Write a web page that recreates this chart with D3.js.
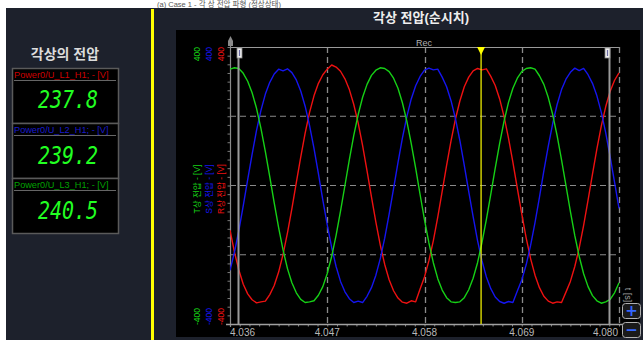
<!DOCTYPE html>
<html><head><meta charset="utf-8">
<script src="https://cdn.jsdelivr.net/npm/d3@7"></script>
<style>html,body{margin:0;padding:0;background:#fff;overflow:hidden}</style>
</head><body><svg id="c" width="643" height="340"></svg>
<script>
// ---------------- data ----------------
const times = [
4.036,4.0365,4.037,4.0375,4.038,4.0385,4.039,4.0395,4.040,4.0405,
4.041,4.0415,4.042,4.0425,4.043,4.0435,4.044,4.0445,4.045,4.0455,
4.046,4.0465,4.047,4.0475,4.048,4.0485,4.049,4.0495,4.050,4.0505,
4.051,4.0515,4.052,4.0525,4.053,4.0535,4.054,4.0545,4.055,4.0555,
4.056,4.0565,4.057,4.0575,4.058,4.0585,4.059,4.0595,4.060,4.0605,
4.061,4.0615,4.062,4.0625,4.063,4.0635,4.064,4.0645,4.065,4.0655,
4.066,4.0665,4.067,4.0675,4.068,4.0685,4.069,4.0695,4.070,4.0705,
4.071,4.0715,4.072,4.0725,4.073,4.0735,4.074,4.0745,4.075,4.0755,
4.076,4.0765,4.077,4.0775,4.078,4.0785,4.079,4.0795,4.080];

const phaseR = [
-129,-192,-244,-285,-313,-330,-339,-336,-334,-315,
-289,-250,-199,-137,-67,8,82,151,211,259,
295,320,336,348,342,330,308,277,234,180,
115,42,-33,-106,-172,-228,-272,-304,-325,-337,
-340,-333,-336,-299,-264,-217,-159,-91,-17,58,
129,192,244,285,313,331,338,334,337,315,
289,250,199,137,67,-8,-82,-151,-211,-259,
-295,-320,-334,-340,-336,-338,-308,-277,-234,-180,
-115,-42,33,106,172,228,272,304,325];

const phaseS = [
-245,-193,-130,-58,17,90,159,217,264,298,
322,336,331,337,326,305,273,229,173,107,
34,-42,-114,-179,-234,-277,-307,-327,-338,-334,
-338,-320,-295,-259,-211,-152,-83,-9,66,137,
199,250,288,315,333,339,334,336,313,285,
245,193,130,58,-17,-90,-159,-217,-264,-298,
-322,-335,-340,-335,-338,-305,-273,-229,-173,-107,
-34,42,114,179,234,277,307,327,339,332,
338,320,295,259,211,152,83,9,-66];

const phaseT = [
336,340,338,324,301,268,223,165,98,25,
-50,-122,-186,-240,-281,-310,-329,-338,-336,-333,
-317,-292,-254,-205,-144,-74,0,75,145,205,
255,292,318,333,340,338,329,310,281,239,
186,121,50,-26,-99,-166,-223,-269,-302,-324,
-336,-338,-336,-324,-301,-268,-223,-165,-98,-25,
50,122,186,240,281,310,329,338,340,336,
317,292,254,205,144,74,0,-75,-145,-205,
-255,-292,-318,-333,-340,-336,-329,-310,-281];

const seriesNames = ["R상 전압 - [V]", "S상 전압 - [V]", "T상 전압 - [V]"];
const seriesColors = ["#ee1111", "#1515ee", "#16d016"];
const meterNames = ["Power0/U_L1_H1; - [V]", "Power0/U_L2_H1; - [V]", "Power0/U_L3_H1; - [V]"];
const meterValues = ["237.8", "239.2", "240.5"];
const meterColors = ["#cc0000", "#1a1acc", "#00a000"];
const xTicks = [4.036, 4.047, 4.058, 4.069, 4.080];
const yGrid = [-200, 0, 200];
const yDomain = [-400, 400];
const cursorTimes = [4.0369, 4.0789];
const markerTime = 4.0644;

// ---------------- drawing ----------------
const svg = d3.select("#c");
const KR = "'Liberation Sans','Noto Sans CJK KR',sans-serif";

svg.append("rect").attr("width", 643).attr("height", 340).attr("fill", "#ffffff");
svg.append("text").attr("x", 157).attr("y", 7).attr("font-family", KR).attr("font-size", 7.5)
  .attr("fill", "#555").text("(a) Case 1 - 각 상 전압 파형 (정상상태)");
svg.append("rect").attr("x", 6).attr("y", 8).attr("width", 637).attr("height", 332).attr("fill", "#1d212c");
svg.append("rect").attr("x", 151).attr("y", 9).attr("width", 3).attr("height", 331).attr("fill", "#ffff00");

// left panel
svg.append("text").attr("x", 65).attr("y", 59).attr("text-anchor", "middle")
  .attr("font-family", KR).attr("font-weight", "bold").attr("font-size", 14)
  .attr("fill", "#dcdcdc").text("각상의 전압");

const meters = svg.append("g").selectAll("g").data(meterValues).join("g")
  .attr("transform", (d, i) => `translate(12,${68 + 55 * i})`);
meters.append("rect").attr("x", 0.5).attr("y", 0.5).attr("width", 106).attr("height", 55)
  .attr("fill", "#000").attr("stroke", "#5a5a5a").attr("stroke-width", 1.5);
meters.append("text").attr("x", 2).attr("y", 10).attr("font-family", "'Liberation Sans',Arial,sans-serif")
  .attr("font-size", 9.2).attr("fill", (d, i) => meterColors[i]).text((d, i) => meterNames[i]);
meters.append("line").attr("x1", 2).attr("x2", 104).attr("y1", 12.5).attr("y2", 12.5)
  .attr("stroke", "#666").attr("stroke-width", 1);
meters.append("text").attr("x", 56).attr("y", (d, i) => 40 + i * 0.6).attr("text-anchor", "middle")
  .attr("font-family", "'DejaVu Sans Mono',monospace").attr("font-style", "italic")
  .attr("font-size", 24).attr("fill", "#22ff22")
  .attr("textLength", 60).attr("lengthAdjust", "spacingAndGlyphs").text(d => d);

// chart title
svg.append("text").attr("x", 421).attr("y", 22).attr("text-anchor", "middle")
  .attr("font-family", KR).attr("font-weight", "bold").attr("font-size", 13)
  .attr("fill", "#eeeeee").text("각상 전압(순시치)");

// black chart area
svg.append("rect").attr("x", 176).attr("y", 30).attr("width", 464).attr("height", 307).attr("fill", "#000");

const x = d3.scaleLinear().domain([xTicks[0], xTicks[xTicks.length - 1]]).range([230, 619]);
const y = d3.scaleLinear().domain(yDomain).range([324, 47]);

const plot = svg.append("g");
// grid
plot.selectAll(".hg").data(yGrid).join("line")
  .attr("x1", x.range()[0]).attr("x2", x.range()[1]).attr("y1", d => y(d)).attr("y2", d => y(d))
  .attr("stroke", "#8a8a8a").attr("stroke-width", 1).attr("stroke-dasharray", "6,4");
plot.selectAll(".vg").data(xTicks.slice(1)).join("line")
  .attr("x1", d => Math.round(x(d)) + 0.5).attr("x2", d => Math.round(x(d)) + 0.5)
  .attr("y1", y(yDomain[1])).attr("y2", y(yDomain[0]))
  .attr("stroke", "#8a8a8a").attr("stroke-width", 1.3).attr("stroke-dasharray", "6,4");
// top frame line
plot.append("line").attr("x1", x.range()[0]).attr("x2", x.range()[1])
  .attr("y1", y(yDomain[1]) + 0.5).attr("y2", y(yDomain[1]) + 0.5)
  .attr("stroke", "#9a9a9a").attr("stroke-width", 1);

// left axis with minor ticks
const yAxis = d3.axisLeft(y).tickValues(d3.range(yDomain[0], yDomain[1] + 1, 25)).tickSize(3).tickFormat("");
const ya = plot.append("g").attr("transform", "translate(230.5,0)").call(yAxis);
ya.select(".domain").remove();
ya.selectAll("line").attr("stroke", "#7a7a7a");
plot.append("line").attr("x1", 230.5).attr("x2", 230.5).attr("y1", 40).attr("y2", 327)
  .attr("stroke", "#8a8a8a").attr("stroke-width", 1.2);
plot.append("path").attr("d", "M230.5,36 L228,41 L228,46 L233,46 L233,41 Z").attr("fill", "#8a8a8a");

// bottom axis
const xAxis = d3.axisBottom(x).tickValues(d3.range(0, 41).map(i => 4.036 + i * 0.0011)).tickSize(2).tickFormat("");
const xa = plot.append("g").attr("transform", "translate(0,324.5)").call(xAxis);
xa.select(".domain").remove();
xa.selectAll("line").attr("stroke", "#8a8a8a");
plot.append("line").attr("x1", 226).attr("x2", 640).attr("y1", 324.5).attr("y2", 324.5)
  .attr("stroke", "#a0a0a0").attr("stroke-width", 1.5);

// x tick labels
plot.selectAll(".xl").data(xTicks).join("text")
  .attr("x", (d, i) => i === 0 ? x(d) : (i === xTicks.length - 1 ? x(d) - 1 : x(d)))
  .attr("y", 336)
  .attr("text-anchor", (d, i) => i === 0 ? "start" : (i === xTicks.length - 1 ? "end" : "middle"))
  .attr("font-family", "'Liberation Sans',Arial,sans-serif").attr("font-size", 10)
  .attr("fill", "#b8b8b8").text(d => d3.format(".3f")(d));

// series lines
svg.append("clipPath").attr("id", "clip").append("rect")
  .attr("x", 230).attr("y", 30).attr("width", 390).attr("height", 300);
const allSeries = [phaseR, phaseS, phaseT];
const line = d3.line().x((d, i) => x(times[i])).y(d => y(d)).curve(d3.curveLinear);
svg.append("g").attr("clip-path", "url(#clip)").selectAll("path").data(allSeries).join("path")
  .attr("d", d => line(d)).attr("fill", "none")
  .attr("stroke", (d, i) => seriesColors[i]).attr("stroke-width", 1.4).attr("stroke-linejoin", "round");

// cursors
cursorTimes.forEach((t, i) => {
  const cx = Math.round(x(t)) + 0.5;
  svg.append("line").attr("x1", cx).attr("x2", cx).attr("y1", y(yDomain[1])).attr("y2", y(yDomain[0]))
    .attr("stroke", "#9a9a9a").attr("stroke-width", 2);
  const hx = i === 0 ? cx - 1.5 : cx - 4.5;
  svg.append("rect").attr("x", hx).attr("y", 48).attr("width", 5).attr("height", 10)
    .attr("fill", "#eeeeee").attr("stroke", "#888").attr("stroke-width", 0.8);
  svg.append("line").attr("x1", hx + 2.5).attr("x2", hx + 2.5).attr("y1", 50).attr("y2", 56)
    .attr("stroke", "#6a6aa0").attr("stroke-width", 1.2);
});
const mx = x(markerTime);
svg.append("line").attr("x1", mx).attr("x2", mx).attr("y1", y(yDomain[1])).attr("y2", y(yDomain[0]))
  .attr("stroke", "#ffff00").attr("stroke-width", 1.2);
svg.append("path").attr("d", `M${mx - 4},47 L${mx + 4},47 L${mx},55 Z`).attr("fill", "#ffff00");

svg.append("text").attr("x", 424).attr("y", 46).attr("text-anchor", "middle")
  .attr("font-family", "'Liberation Sans',Arial,sans-serif").attr("font-size", 9)
  .attr("fill", "#b0b0b0").text("Rec");

// rotated y labels
const labX = [221, 209, 197];
seriesNames.forEach((nm, i) => {
  const g = svg.append("g").attr("font-family", KR).attr("fill", seriesColors[i]);
  g.append("text").attr("transform", `translate(${labX[i]},47) rotate(-90)`).attr("text-anchor", "end")
    .attr("dominant-baseline", "central").attr("font-size", 8.5).text(String(yDomain[1]));
  g.append("text").attr("transform", `translate(${labX[i]},325) rotate(-90)`).attr("text-anchor", "start")
    .attr("dominant-baseline", "central").attr("font-size", 8.5).text(String(yDomain[0]));
  g.append("text").attr("transform", `translate(${labX[i]},189) rotate(-90)`).attr("text-anchor", "middle")
    .attr("dominant-baseline", "central").attr("font-size", 8.5).text(nm);
});

// time unit label and zoom buttons
svg.append("text").attr("transform", "translate(628,295) rotate(90)").attr("text-anchor", "middle")
  .attr("dominant-baseline", "central").attr("font-family", "'Liberation Sans',Arial,sans-serif")
  .attr("font-size", 9).attr("fill", "#a0a0a0").text("t [s]");
[["+", 303], ["−", 322]].forEach(([s, by]) => {
  svg.append("rect").attr("x", 622.5).attr("y", by + 0.5).attr("width", 18).attr("height", 15).attr("rx", 3)
    .attr("fill", "#1a1a1a").attr("stroke", "#b0b0b0").attr("stroke-width", 1);
  svg.append("text").attr("x", 631.5).attr("y", by + 12.5).attr("text-anchor", "middle")
    .attr("font-family", "'DejaVu Sans',sans-serif").attr("font-weight", "bold").attr("font-size", 15)
    .attr("fill", "#3366ff").text(s);
});
</script></body></html>
